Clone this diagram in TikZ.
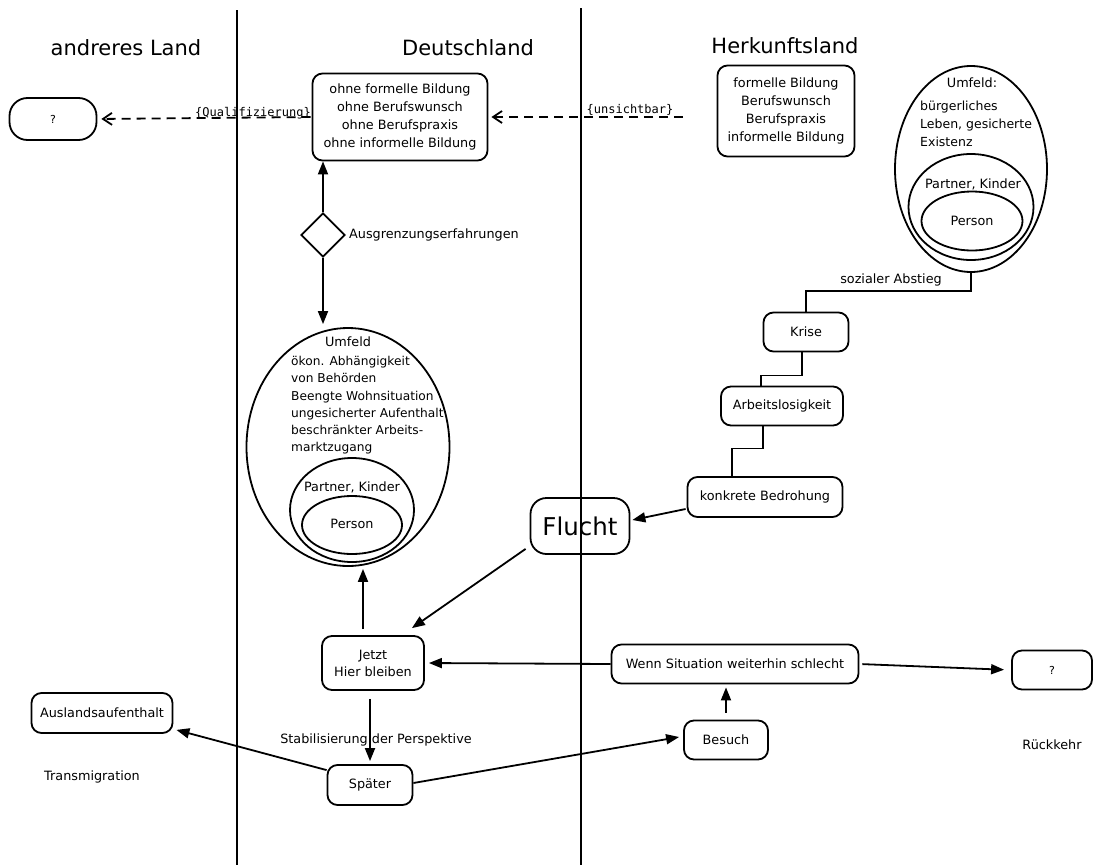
\documentclass[tikz,border=0pt]{standalone}
\usepackage{fontspec}
\setmainfont{DejaVu Sans}
\setmonofont{DejaVu Sans Mono}
\usetikzlibrary{shapes.geometric,arrows.meta,calc}
\begin{document}
\begin{tikzpicture}[x=1pt,y=-1pt,
  every node/.style={font=\fontsize{12.8}{18}\selectfont, inner sep=0pt},
  box/.style={draw, line width=1.8pt, rounded corners=10pt, align=center},
  oval/.style={draw, ellipse, line width=1.8pt},
  arr/.style={line width=1.8pt, -{Triangle[length=13pt,width=10pt]}},
  darr/.style={line width=1.8pt, dash pattern=on 9pt off 6pt, -{Straight Barb[length=9pt,width=12pt,line width=1.8pt]}},
  head/.style={font=\fontsize{21}{24}\selectfont},
  lbl/.style={font=\fontsize{12}{18}\ttfamily},
  qm/.style={font=\fontsize{11}{13}\selectfont},
  sep/.style={line width=2pt}]
\useasboundingbox (0,0) rectangle (1093,865);
\fill[white] (0,0) rectangle (1093,865);

% separators
\draw[sep] (237,10) -- (237,865);
\draw[sep] (581,8) -- (581,865);

% headings
\node[head] (hL) at (126,48) {andreres Land};
\node[head] (hD) at (468,48) {Deutschland};
\node[head] (hH) at (785,46) {Herkunftsland};

% top boxes
\node[box, rounded corners=18pt, minimum width=87pt, minimum height=42pt, qm] (q1) at (53,119) {?};
\node[box, minimum width=175pt, minimum height=87pt] (ohne) at (400,117) {ohne formelle Bildung\\ohne Berufswunsch\\ohne Berufspraxis\\ohne informelle Bildung};
\node[box, minimum width=137pt, minimum height=91pt] (form) at (786,111) {formelle Bildung\\Berufswunsch\\Berufspraxis\\informelle Bildung};

% diamond
\node[draw, diamond, line width=1.8pt, minimum width=44pt, minimum height=44pt] (dia) at (323,235) {};
\node[anchor=west] (ausg) at (349,235) {Ausgrenzungserfahrungen};

% left ellipses (Deutschland)
\node[oval, minimum width=203pt, minimum height=238pt] (e1) at (348,447) {};
\node[oval, minimum width=124pt, minimum height=104pt] (e1b) at (352,510) {};
\node[oval, minimum width=100pt, minimum height=58pt] (e1c) at (352,525) {};
\node (u1) at (348,342) {Umfeld};
\node[anchor=north west, align=left, font=\fontsize{12.2}{17.3}\selectfont] (u1t) at (291,356) {ökon. Abhängigkeit\\von Behörden\\Beengte Wohnsituation\\ungesicherter Aufenthalt\\beschränkter Arbeits-\\marktzugang};
\node (pk1) at (352,487) {Partner, Kinder};
\node (p1) at (352,524) {Person};

% right ellipses (Herkunftsland)
\node[oval, minimum width=152pt, minimum height=206pt] (e2) at (971,169) {};
\node[oval, minimum width=125pt, minimum height=106pt] (e2b) at (971,207) {};
\node[oval, minimum width=101pt, minimum height=59pt] (e2c) at (972,221) {};
\node (u2) at (972,83) {Umfeld:};
\node[anchor=north west, align=left, font=\fontsize{12.5}{18}\selectfont] (u2t) at (920,101) {bürgerliches\\Leben, gesicherte\\Existenz};
\node (pk2) at (973,184) {Partner, Kinder};
\node (p2) at (972,221) {Person};

% staircase boxes
\node[box, minimum width=85pt, minimum height=39pt] (krise) at (806,332) {Krise};
\node[box, minimum width=122pt, minimum height=39pt] (arbeit) at (782,406) {Arbeitslosigkeit};
\node[box, minimum width=155pt, minimum height=40pt] (konkret) at (765,497) {konkrete Bedrohung};
\node[box, rounded corners=16pt, minimum width=99pt, minimum height=56pt, font=\fontsize{24.5}{28}\selectfont] (flucht) at (580,526) {Flucht};

% lower boxes
\node[box, minimum width=102pt, minimum height=54pt, font=\fontsize{12.8}{17}\selectfont] (jetzt) at (373,663) {Jetzt\\Hier bleiben};
\node[box, minimum width=247pt, minimum height=39pt] (wenn) at (735,664) {Wenn Situation weiterhin schlecht};
\node[box, minimum width=80pt, minimum height=39pt, qm] (q2) at (1052,670) {?};
\node[box, minimum width=84pt, minimum height=39pt] (besuch) at (726,740) {Besuch};
\node[box, minimum width=85pt, minimum height=40pt] (spaeter) at (370,785) {Später};
\node[box, minimum width=141pt, minimum height=40pt] (ausland) at (102,713) {Auslandsaufenthalt};
\node (trans) at (92,777) {Transmigration};
\node (rueck) at (1052,745) {Rückkehr};

% dashed arrows
\coordinate (ustart) at (683,117);
\draw[darr, shorten >=3pt] (ustart) -- (ohne.east);
\node[lbl] (unsicht) at (630,110) {\{unsichtbar\}};
\draw[darr, shorten >=4pt, shorten <=1pt] (ohne.west) -- (q1.east);
\node[lbl] (quali) at (253,113) {\{Qualifizierung\}};

% solid arrows
\draw[arr] (dia.north) -- (dia.north |- ohne.south);
\draw[arr, shorten >=3pt] (dia.south) -- (dia.south |- e1.north);
\coordinate (jt) at ($(jetzt.north)+(-10,0)$);
\draw[arr, shorten <=6pt, shorten >=2pt] (jt) -- (jt |- e1.south);

% staircase
\draw[line width=1.8pt] (e2.south) -- ++(0,18) -| (krise.north);
\node (sozial) at (891,280) {sozialer Abstieg};
\coordinate (k1) at ($(krise.south)+(-4,0)$);
\coordinate (a1) at ($(arbeit.north)+(-21,0)$);
\draw[line width=1.8pt] (k1) -- ++(0,23) -| (a1);
\coordinate (a2) at ($(arbeit.south)+(-19,0)$);
\coordinate (b1) at ($(konkret.north)+(-33,0)$);
\draw[line width=1.8pt] (a2) -- ++(0,22) -| (b1);

\draw[arr] ($(konkret.west)+(-1,12)$) -- ($(flucht.east)+(2,-6)$);
\draw[arr] ($(flucht.south west)+(-4,-6)$) -- ($(jetzt.north east)+(-13,-7)$);
\draw[arr, shorten >=4pt] (wenn.west) -- (jetzt.east);
\draw[arr, shorten <=3pt, shorten >=7pt] (wenn.east) -- (q2.west);
\draw[arr, shorten <=7pt, shorten >=3pt] (besuch.north) -- (besuch.north |- wenn.south);
\draw[arr, shorten <=8pt, shorten >=3pt] (spaeter.north |- jetzt.south) -- (spaeter.north);
\node (stab) at (376,740) {Stabilisierung der Perspektive};
\draw[arr] ($(spaeter.north west)+(0,6)$) -- ($(ausland.south east)+(3,-4)$);
\draw[arr] ($(spaeter.east)+(0,-2)$) -- ($(besuch.west)+(-4,-3)$);
\end{tikzpicture}
\end{document}
